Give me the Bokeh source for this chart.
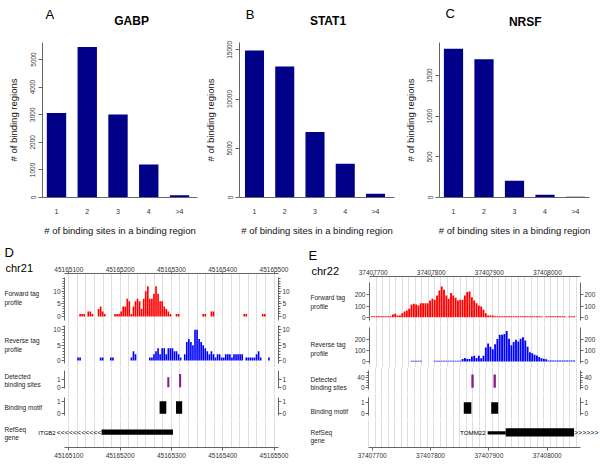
import math
from bokeh.plotting import figure
from bokeh.layouts import row, column
from bokeh.models import Range1d, FixedTicker, Label, LinearAxis, BasicTickFormatter, Title
from bokeh.embed import file_html
from bokeh.resources import INLINE

FONT = "Liberation Sans"
AXIS_GRAY = "#666666"
TEXT_GRAY = "#333333"
NAVY = "#000088"
GRID = "#dedede"
PURPLE = "#8b1a89"

# ================= DATA: panels A-C =================
site_categories = ["1", "2", "3", "4", ">4"]
gabp_counts = [3060, 5450, 3010, 1200, 85]
stat1_counts = [14930, 13300, 6640, 3420, 370]
nrsf_counts = [1830, 1700, 205, 33, 8]
gabp_yticks = [0, 1000, 2000, 3000, 4000, 5000]
stat1_yticks = [0, 5000, 10000, 15000]
nrsf_yticks = [0, 500, 1000, 1500]
x_title = "# of binding sites in a binding region"
y_title = "# of binding regions"

# ================= DATA: panel D (chr21) =================
d_chrom = "chr21"
d_bin_start = 45165100
d_bin_size = 4
d_forward = [0, 0, 0, 0, 0, 1, 1, 1, 0, 2,
             2, 1, 0, 0, 3, 4, 2, 1, 0, 0,
             0, 0, 1, 1, 1, 2, 4, 4, 7, 6,
             1, 4, 6, 7, 6, 3, 7, 10, 12, 7,
             7, 9, 12, 9, 6, 6, 4, 3, 2, 1,
             0, 0, 1, 1, 0, 0, 0, 0, 0, 0,
             0, 0, 0, 0, 0, 1, 1, 0, 0, 2,
             2, 0, 0, 0, 0, 0, 0, 0, 0, 0,
             0, 0, 0, 0, 0, 1, 1, 0, 0, 0,
             0, 0, 0, 0, 1, 1]
d_reverse = [0, 0, 0, 0, 1, 1, 0, 0, 0, 0,
             0, 0, 0, 0, 0, 1, 1, 0, 0, 0,
             1, 1, 0, 0, 0, 0, 0, 0, 0, 0,
             1, 3, 2, 0, 0, 0, 0, 0, 0, 1,
             1, 2, 3, 4, 2, 4, 4, 2, 4, 4,
             4, 3, 3, 2, 1, 0, 2, 6, 7, 6,
             5, 10, 10, 7, 6, 5, 4, 3, 2, 3,
             2, 1, 2, 2, 1, 1, 2, 2, 2, 1,
             2, 2, 2, 2, 2, 0, 1, 1, 1, 1,
             1, 2, 3, 1, 0, 0, 0, 1]
d_xticks = [45165100, 45165200, 45165300, 45165400, 45165500]
d_site_pos = [45165294, 45165317]
d_site_score = [1.35, 1.8]
d_motif_start = [45165277, 45165309]
d_motif_end = [45165290, 45165321]
d_motif_score = [1, 1]
d_gene_name = "ITGB2"
d_gene_block = (45165164, 45165303)

# ================= DATA: panel E (chr22) =================
e_chrom = "chr22"
e_bin_start = 37407696
e_bin_size = 4
e_forward = [8, 8, 8, 8, 8, 8, 8, 8, 8, 24,
             30, 15, 15, 36, 51, 60, 75, 113, 120, 113,
             104, 125, 125, 125, 125, 150, 164, 155, 194, 238,
             275, 245, 194, 164, 215, 194, 173, 149, 155, 155,
             194, 224, 230, 179, 149, 125, 104, 95, 66, 36,
             15, 15, 15, 8, 8, 8, 8, 8, 8, 8,
             8, 8, 8, 8, 8, 8, 8, 8, 8, 8,
             8, 8, 8, 8, 0, 8, 8, 8, 8, 8,
             8, 8, 8, 8, 0, 8, 8, 8]
e_reverse = [0, 0, 0, 0, 0, 0, 0, 0, 0, 0,
             0, 0, 0, 0, 0, 0, 0, 8, 8, 8,
             8, 8, 0, 0, 0, 0, 0, 8, 8, 8,
             8, 8, 8, 8, 8, 8, 8, 8, 8, 24,
             33, 24, 24, 45, 54, 33, 54, 30, 54, 128,
             167, 137, 113, 158, 208, 247, 247, 253, 282, 209,
             150, 179, 200, 185, 209, 224, 194, 135, 85, 76,
             62, 56, 41, 30, 25, 20, 10, 10, 10, 10,
             10, 10, 10, 10, 10, 10, 10, 10]
e_xticks = [37407700, 37407800, 37407900, 37408000]
e_site_pos = [37407872, 37407910]
e_site_score = [53, 53]
e_motif_start = [37407857, 37407904]
e_motif_end = [37407870, 37407916]
e_motif_score = [1, 1]
e_gene_name = "TOMM22"
e_gene_utr = (37407898, 37407929)
e_gene_cds = (37407929, 37408046)


# ================= helpers =================
def new_fig(width, height, bl, br, bt, bb, xr, yr, xloc=None, yloc=None):
    p = figure(width=width, height=height, x_range=xr, y_range=yr,
               x_axis_location=xloc, y_axis_location=yloc,
               output_backend="svg", toolbar_location=None, title=None,
               min_border=0)
    p.min_border_left = bl
    p.min_border_right = br
    p.min_border_top = bt
    p.min_border_bottom = bb
    p.outline_line_color = None
    p.background_fill_color = "white"
    p.border_fill_color = "white"
    p.xgrid.visible = False
    p.ygrid.visible = False
    return p


def text_fig(left, w, fig_h, bt, bb, frame_top):
    """Blank figure whose data coordinates equal page pixels (y downwards) inside its frame."""
    fh = fig_h - bt - bb
    return new_fig(w, fig_h, 0, 0, bt, bb, Range1d(left, left + w),
                   Range1d(frame_top + fh, frame_top))


def mapper(fl, ft, fw, fh, x0, x1, y0, y1):
    def f(px, py):
        return (x0 + (px - fl) / fw * (x1 - x0),
                y0 + (ft + fh - py) / fh * (y1 - y0))
    return f


def put(p, x, y, s, size, align="left", bold=False, color="black", angle=0.0):
    p.add_layout(Label(x=x, y=y, text=s, text_font=FONT, text_font_size=f"{size}px",
                       text_align=align, text_baseline="middle", text_color=color,
                       text_font_style="bold" if bold else "normal", angle=angle))


def style_axis(ax, size=6.5, tick_out=3, standoff=2):
    ax.axis_line_color = AXIS_GRAY
    ax.major_tick_line_color = AXIS_GRAY
    ax.minor_tick_line_color = AXIS_GRAY
    ax.major_tick_out = tick_out
    ax.major_tick_in = 0
    ax.minor_tick_out = 2
    ax.minor_tick_in = 0
    ax.major_label_text_font = FONT
    ax.major_label_text_font_size = f"{size}px"
    ax.major_label_text_color = TEXT_GRAY
    ax.major_label_standoff = standoff


def style_axis_title(ax, text, standoff):
    ax.axis_label = text
    ax.axis_label_text_font = FONT
    ax.axis_label_text_font_size = "9.5px"
    ax.axis_label_text_font_style = "normal"
    ax.axis_label_text_color = "#111111"
    ax.axis_label_standoff = standoff


# ================= top row: bar charts =================
HEAD_H = 30
MAIN_H = 210
FRAME_TOP = 42
FRAME_H = 155


def bar_panel(fig_left, width, bl, br, counts, cat1_px, spacing, px_per_unit, yticks,
              letter, letter_xy, title, title_xy):
    header = text_fig(fig_left, width, HEAD_H, 0, 0, 0)
    put(header, letter_xy[0], letter_xy[1], letter, 13)
    put(header, title_xy[0], title_xy[1], title, 12, align="center", bold=True)

    fw = width - bl - br
    fl = fig_left + bl
    x0 = 1 - (cat1_px - fl) / spacing
    x1 = x0 + fw / spacing
    y1 = FRAME_H / px_per_unit
    bt = FRAME_TOP - HEAD_H
    p = new_fig(width, MAIN_H, bl, br, bt, MAIN_H - bt - FRAME_H,
                Range1d(x0, x1), Range1d(0, y1), "below", "left")
    pos = list(range(1, len(site_categories) + 1))
    p.vbar(x=pos, top=counts, width=0.63, fill_color=NAVY, line_color=None)

    xa = p.xaxis[0]
    style_axis(xa, size=7, tick_out=0, standoff=10)
    xa.ticker = FixedTicker(ticks=pos)
    xa.major_label_overrides = {i: c for i, c in zip(pos, site_categories)}
    xa.major_tick_line_color = None
    style_axis_title(xa, x_title, 7)

    ya = p.yaxis[0]
    style_axis(ya, size=6.5, tick_out=4, standoff=3)
    ya.ticker = FixedTicker(ticks=yticks)
    ya.major_label_orientation = "vertical"
    style_axis_title(ya, y_title, 9)
    return column(header, p)


fa = bar_panel(0, 200, 42, 3, gabp_counts, 56, 30.75, 0.0276, gabp_yticks,
               "A", (4, 14), "GABP", (115, 20))
fb = bar_panel(200, 197, 39, 3, stat1_counts, 254, 30.25, 0.009847, stat1_yticks,
               "B", (208, 13.5), "STAT1", (312.5, 20))
fc = bar_panel(397, 203, 42, 11, nrsf_counts, 453, 30.5, 0.08133, nrsf_yticks,
               "C", (405, 13), "NRSF", (513, 21))


# ================= bottom row: genome tracks =================
def bins_xy(start, size, vals):
    xs = [start + size * i + size / 2 for i, v in enumerate(vals) if v > 0]
    ys = [v for v in vals if v > 0]
    return xs, ys


def genome_panel(P):
    lab_w = P["lab_w"]
    tw = P["w"] - lab_w
    bl = P["frame_left"] - (P["fig_left"] + lab_w)
    fw = P["fw"]
    br = tw - bl - fw
    x0, x1 = P["x0"], P["x0"] + fw / P["ppb"]
    xr = Range1d(x0, x1)
    grid = [g for g in P["grid"] if x0 <= g <= x1]
    rows = []
    figs = {}
    for key, fig_top, fig_h, frame_top, frame_h, spec in P["tracks"]:
        zero, ppu = spec["zero"], spec["ppu"]
        y0 = -(frame_top + frame_h - zero) / ppu
        y1 = (zero - frame_top) / ppu
        xloc = "above" if key == "fwd" else None
        bt = frame_top - fig_top
        bb = fig_h - bt - frame_h
        p = new_fig(tw, fig_h, bl, br, bt, bb, xr, Range1d(y0, y1), xloc, "left")
        p.xgrid.visible = True
        p.xgrid.ticker = FixedTicker(ticks=grid)
        p.xgrid.grid_line_color = GRID
        if xloc is not None:
            ax = p.xaxis[0]
            ax.ticker = FixedTicker(ticks=P["xticks"])
            ax.formatter = BasicTickFormatter(use_scientific=False)
            style_axis(ax, size=6.5, tick_out=2, standoff=0)
        bounds = ((zero - spec["line"][1]) / ppu, (zero - spec["line"][0]) / ppu)
        left = p.yaxis[0]
        right = LinearAxis()
        p.add_layout(right, "right")
        for ax in (left, right):
            ax.ticker = FixedTicker(ticks=spec["ticks"], minor_ticks=spec["minor"])
            ax.bounds = bounds
            style_axis(ax, size=6.5, tick_out=3, standoff=1)
        # label figure with the same top/bottom borders (rows align plot frames)
        lab = text_fig(P["fig_left"], lab_w, fig_h, bt, bb, frame_top)
        figs[key] = (p, lab)
        rows.append(row(lab, p))

    # tag profiles
    p, lab = figs["fwd"]
    xs, ys = bins_xy(P["bin_start"], P["bin_size"], P["forward"])
    p.vbar(x=xs, top=ys, bottom=0, width=P["bin_size"] * 0.8, fill_color="#ff0000", line_color=None)
    p, lab = figs["rev"]
    xs, ys = bins_xy(P["bin_start"], P["bin_size"], P["reverse"])
    p.vbar(x=xs, top=ys, bottom=0, width=P["bin_size"] * 0.8, fill_color="#0000ff", line_color=None)
    # detected binding sites
    p, lab = figs["det"]
    p.vbar(x=P["site_pos"], top=P["site_score"], bottom=0, width=4, fill_color=PURPLE, line_color=None)
    # motifs
    p, lab = figs["motif"]
    p.quad(left=P["motif_start"], right=P["motif_end"], bottom=0, top=P["motif_score"],
           fill_color="black", line_color=None)

    # header texts (as titles in the label figure's top border) and track labels
    lx = P["label_x"]
    dy = P["label_dy"]
    tc = "#222222"
    lab = figs["fwd"][1]
    lab.add_layout(Title(text=P["chrom"], align="left", offset=P["chrom_x"] - P["fig_left"],
                         standoff=P["chrom_standoff"], text_font=FONT, text_font_size="11px",
                         text_font_style="normal", text_color="black"), "above")
    lab.add_layout(Title(text=P["letter"], align="left", offset=P["letter_x"] - P["fig_left"],
                         standoff=0, text_font=FONT, text_font_size="13px",
                         text_font_style="normal", text_color="black"), "above")
    put(lab, lx, 293 + dy, "Forward tag", 6.5, color=tc)
    put(lab, lx, 301.5 + dy, "profile", 6.5, color=tc)
    lab = figs["rev"][1]
    put(lab, lx, 340 + dy, "Reverse tag", 6.5, color=tc)
    put(lab, lx, 348.5 + dy, "profile", 6.5, color=tc)
    lab = figs["det"][1]
    put(lab, lx, 376 + dy * 0.8, "Detected", 6.5, color=tc)
    put(lab, lx, 384 + dy * 0.8, "binding sites", 6.5, color=tc)
    lab = figs["motif"][1]
    put(lab, lx, 406.5 + dy, "Binding motif", 6.5, color=tc)

    # RefSeq track: frame spans the whole panel width, same bp scale
    g_top, g_h, g_fh = 420, 46, 27
    gx0 = x0 - (P["frame_left"] - P["fig_left"]) / P["ppb"]
    gx1 = x1 + br / P["ppb"]
    g = new_fig(P["w"], g_h, 0, 0, 0, g_h - g_fh, Range1d(gx0, gx1), Range1d(0, 1), "below", None)
    g.xgrid.visible = True
    g.xgrid.ticker = FixedTicker(ticks=grid)
    g.xgrid.grid_line_color = GRID
    ax = g.xaxis[0]
    ax.ticker = FixedTicker(ticks=P["xticks"])
    ax.formatter = BasicTickFormatter(use_scientific=False)
    ax.bounds = (x0, x1)
    style_axis(ax, size=6.5, tick_out=3, standoff=2)
    gm = mapper(P["fig_left"], g_top, P["w"], g_fh, gx0, gx1, 0, 1)
    gdy = dy * 0.7
    for px, py, s in ((lx, 429 + gdy, "RefSeq"), (lx, 437 + gdy, "gene")):
        x, y = gm(px, py)
        put(g, x, y, s, 6.5, color=tc)
    rows.append(g)
    return column(*rows), g, gm, P["ppb"], gx0


D = dict(fig_left=0, w=300, lab_w=47, frame_left=64, fw=214, ppb=0.513,
         x0=45165100 - (68.3 - 64) / 0.513,
         grid=[45165100 + i * 50 / 3 for i in range(-1, 26)],
         xticks=d_xticks, bin_start=d_bin_start, bin_size=d_bin_size,
         forward=d_forward, reverse=d_reverse,
         site_pos=d_site_pos, site_score=d_site_score,
         motif_start=d_motif_start, motif_end=d_motif_end, motif_score=d_motif_score,
         letter="D", letter_x=4, chrom=d_chrom, chrom_x=5, chrom_standoff=0,
         label_x=4, label_dy=0,
         tracks=[
             ("fwd", 240, 83, 273, 50, dict(zero=316, ppu=2.53, line=(277, 320), ticks=[0, 5, 10], minor=list(range(0, 16)))),
             ("rev", 323, 44, 323, 44, dict(zero=360, ppu=3.07, line=(325, 363), ticks=[0, 5, 10], minor=list(range(0, 12)))),
             ("det", 367, 26, 367, 26, dict(zero=386.7, ppu=7.4, line=(370, 388), ticks=[0, 1], minor=[])),
             ("motif", 393, 27, 393, 27, dict(zero=413.3, ppu=12.6, line=(397, 415), ticks=[0, 1], minor=[])),
         ])

E = dict(fig_left=300, w=300, lab_w=51, frame_left=368, fw=212, ppb=0.5833,
         x0=37407700 - (371.7 - 368) / 0.5833,
         grid=[37407700 + 100 / 18 + i * 100 / 9 for i in range(-2, 34)],
         xticks=e_xticks, bin_start=e_bin_start, bin_size=e_bin_size,
         forward=e_forward, reverse=e_reverse,
         site_pos=e_site_pos, site_score=e_site_score,
         motif_start=e_motif_start, motif_end=e_motif_end, motif_score=e_motif_score,
         letter="E", letter_x=308, chrom=e_chrom, chrom_x=311, chrom_standoff=0,
         label_x=310, label_dy=4,
         tracks=[
             ("fwd", 240, 83, 276, 47, dict(zero=316.7, ppu=0.112, line=(281.7, 320), ticks=[0, 100, 200], minor=[])),
             ("rev", 323, 44, 323, 44, dict(zero=361, ppu=0.1085, line=(326.7, 363), ticks=[0, 100, 200], minor=[])),
             ("det", 367, 26, 367, 26, dict(zero=387.3, ppu=0.25, line=(370, 389.3), ticks=[0, 40], minor=[10, 20, 30, 50, 60])),
             ("motif", 393, 27, 393, 27, dict(zero=413.3, ppu=11.6, line=(397, 415), ticks=[0, 1], minor=[])),
         ])

d_col, d_gene, d_gm, d_ppb, d_gx0 = genome_panel(D)
e_col, e_gene, e_gm, e_ppb, e_gx0 = genome_panel(E)


def bp_to_px(fig_left, ppb, gx0, bp):
    return fig_left + (bp - gx0) * ppb


# gene model D (minus strand, continues to the left)
d_gene.quad(left=[d_gene_block[0]], right=[d_gene_block[1]], bottom=0.47, top=0.667,
            fill_color="black", line_color=None)
gx = bp_to_px(0, d_ppb, d_gx0, d_gene_block[0])
x, y = d_gm(gx, 432)
put(d_gene, x, y, "<" * 11, 7, align="right")
x, y = d_gm(gx - 46, 432)
put(d_gene, x, y, d_gene_name, 6, align="right")

# gene model E (plus strand, continues to the right)
e_gene.quad(left=[e_gene_utr[0]], right=[e_gene_utr[1]], bottom=0.48, top=0.60,
            fill_color="black", line_color=None)
e_gene.quad(left=[e_gene_cds[0]], right=[e_gene_cds[1]], bottom=0.407, top=0.715,
            fill_color="black", line_color=None)
ux = bp_to_px(300, e_ppb, e_gx0, e_gene_utr[0])
cx = bp_to_px(300, e_ppb, e_gx0, e_gene_cds[1])
x, y = e_gm(ux - 2, 432)
put(e_gene, x, y, e_gene_name, 6.2, align="right")
x, y = e_gm(cx, 432)
put(e_gene, x, y, ">" * 6, 7, align="left")

layout = column(row(fa, fb, fc), row(d_col, e_col))

open("out.html", "w").write(file_html(layout, INLINE))
